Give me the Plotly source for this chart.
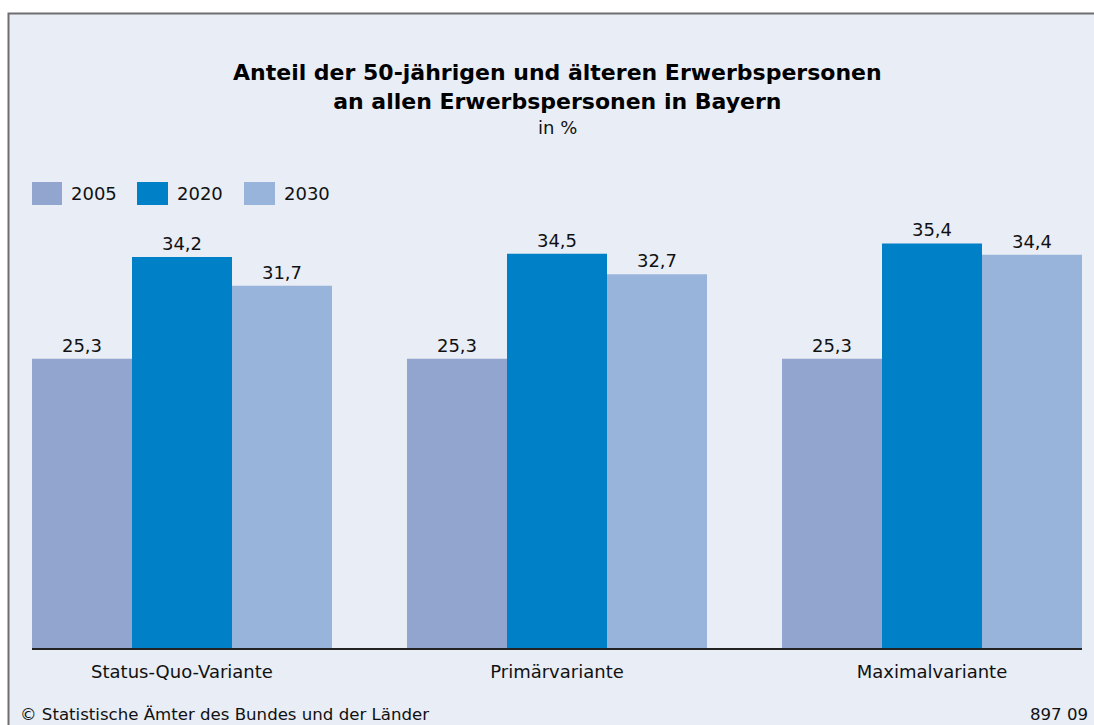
import plotly.graph_objects as go

categories = ["Status-Quo-Variante", "Primärvariante", "Maximalvariante"]
years = ["2005", "2020", "2030"]
values_2005 = [25.3, 25.3, 25.3]
values_2020 = [34.2, 34.5, 35.4]
values_2030 = [31.7, 32.7, 34.4]
colors = ["#91a5cf", "#0080c6", "#98b4da"]

W, H = 1094, 725
L, R, T, B = 32, 12, 200, 77
PW = W - L - R
PH = H - T - B
FONT = "DejaVu Sans, Liberation Sans, Arial, sans-serif"


def px(x):
    return (x - L) / PW


def py(y):
    return (H - B - y) / PH


def fmt(v):
    return f"{v:.1f}".replace(".", ",")


fig = go.Figure()
for name, vals, col in zip(years, [values_2005, values_2020, values_2030], colors):
    fig.add_trace(go.Bar(
        x=categories, y=vals, name=name, marker_color=col, marker_line_width=0,
        text=[fmt(v) for v in vals], textposition="outside",
        textfont=dict(size=18, color="#111111", family=FONT), cliponaxis=False,
        showlegend=False,
    ))

shapes = [
    dict(type="rect", xref="paper", yref="paper", x0=px(8.5), x1=px(1110), y0=py(13.5), y1=py(740),
         fillcolor="#e8edf6", line=dict(color="#6e6e6e", width=2), layer="below"),
]
annotations = []
legend_x = [(32, 62, 69), (137, 168, 175), (244, 275, 282)]
for (x0, x1, tx), name, col in zip(legend_x, years, colors):
    shapes.append(dict(type="rect", xref="paper", yref="paper", x0=px(x0), x1=px(x1),
                       y0=py(205), y1=py(182), fillcolor=col, line=dict(width=0)))
    annotations.append(dict(xref="paper", yref="paper", x=px(tx), y=py(193.5), text=name,
                            showarrow=False, xanchor="left", yanchor="middle",
                            font=dict(size=18, color="#111111", family=FONT)))

annotations += [
    dict(xref="paper", yref="paper", x=px(557), y=py(87), showarrow=False,
         text="<b>Anteil der 50-jährigen und älteren Erwerbspersonen<br>an allen Erwerbspersonen in Bayern</b>",
         font=dict(size=22, color="#000000", family=FONT), xanchor="center", yanchor="middle"),
    dict(xref="paper", yref="paper", x=px(557), y=py(128), showarrow=False, text="in %",
         font=dict(size=18, color="#111111", family=FONT), xanchor="center", yanchor="middle"),
    dict(xref="paper", yref="paper", x=px(18), y=py(714), showarrow=False,
         text="© Statistische Ämter des Bundes und der Länder",
         font=dict(size=16.6, color="#111111", family=FONT), xanchor="left", yanchor="middle"),
    dict(xref="paper", yref="paper", x=px(1090), y=py(714), showarrow=False, text="897 09",
         font=dict(size=16.6, color="#111111", family=FONT), xanchor="right", yanchor="middle"),
]

fig.update_layout(
    width=W, height=H, margin=dict(l=L, r=R, t=T, b=B),
    paper_bgcolor="#ffffff", plot_bgcolor="rgba(0,0,0,0)",
    font=dict(family=FONT, color="#111111"),
    barmode="group", bargap=0.2, bargroupgap=0,
    shapes=shapes, annotations=annotations,
    uniformtext=dict(minsize=18, mode="show"),
)
fig.update_xaxes(range=[-0.4, 2.4], showline=True, linecolor="#222222", linewidth=1.5,
                 ticks="", ticklabelstandoff=7, tickfont=dict(size=18, color="#111111", family=FONT),
                 showgrid=False)
fig.update_yaxes(range=[0, PH / 11.43], visible=False, showgrid=False)

fig.write_html("out.html")
